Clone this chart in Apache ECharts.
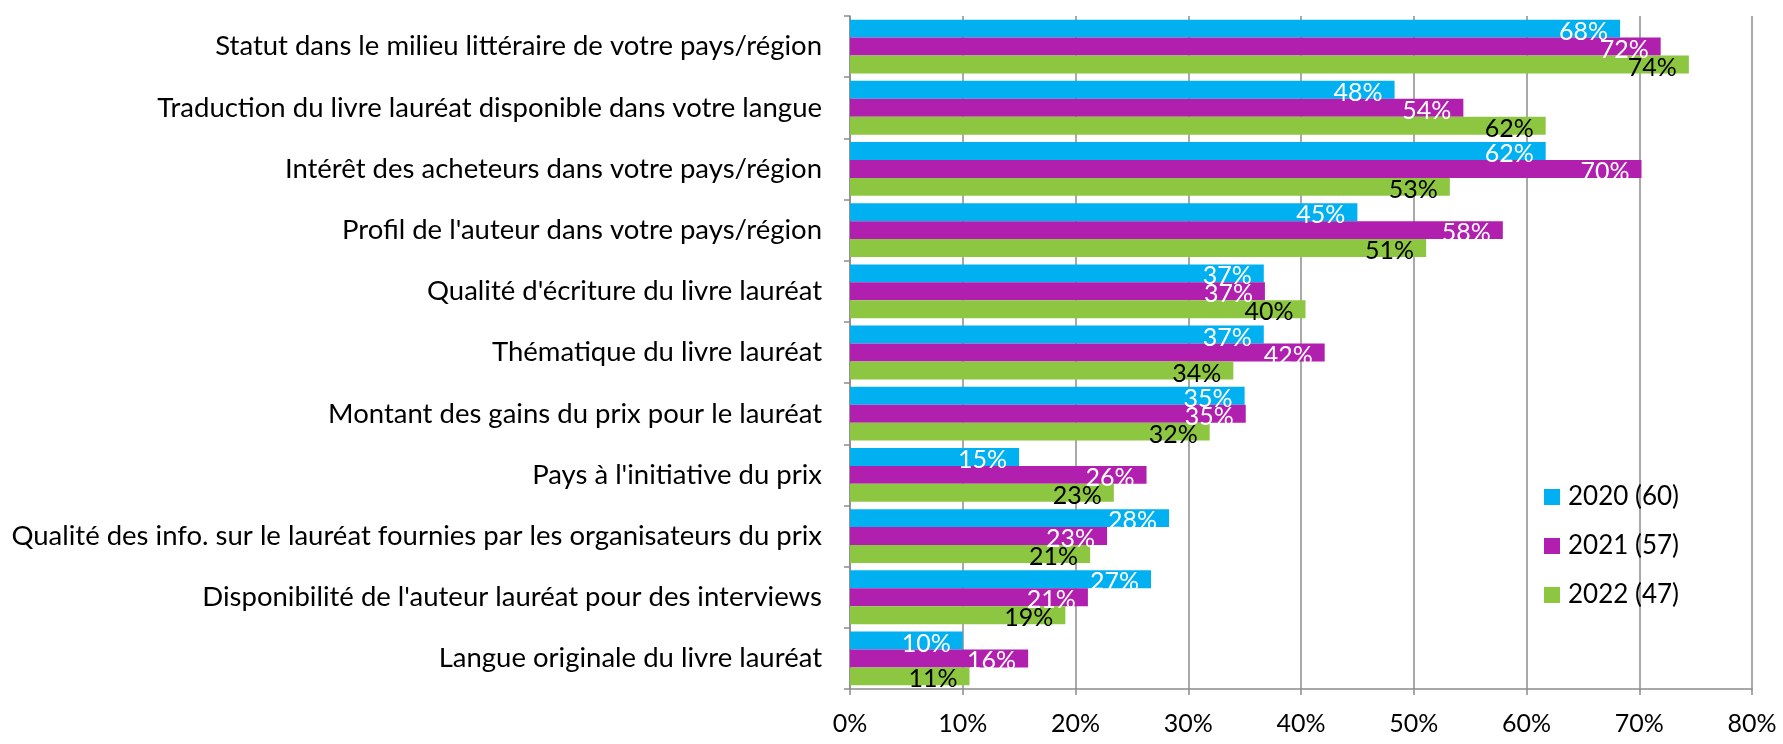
<!DOCTYPE html>
<html>
<head>
<meta charset="utf-8">
<script src="https://cdn.jsdelivr.net/npm/echarts@6/dist/echarts.min.js"></script>
<style>
html,body{margin:0;padding:0;background:#fff;}
#chart{width:1783px;height:744px;}
</style>
</head>
<body>
<div id="chart"></div>
<script>
const categories = [
  "Statut dans le milieu littéraire de votre pays/région",
  "Traduction du livre lauréat disponible dans votre langue",
  "Intérêt des acheteurs dans votre pays/région",
  "Profil de l'auteur dans votre pays/région",
  "Qualité d'écriture du livre lauréat",
  "Thématique du livre lauréat",
  "Montant des gains du prix pour le lauréat",
  "Pays à l'initiative du prix",
  "Qualité des info. sur le lauréat fournies par les organisateurs du prix",
  "Disponibilité de l'auteur lauréat pour des interviews",
  "Langue originale du livre lauréat"
];
const seriesNames = ["2020 (60)", "2021 (57)", "2022 (47)"];
const values2020 = [68.3, 48.3, 61.7, 45.0, 36.7, 36.7, 35.0, 15.0, 28.3, 26.7, 10.0];
const values2021 = [71.9, 54.4, 70.2, 57.9, 36.8, 42.1, 35.1, 26.3, 22.8, 21.1, 15.8];
const values2022 = [74.4, 61.7, 53.2, 51.1, 40.4, 34.0, 31.9, 23.4, 21.3, 19.1, 10.6];
const xTicks = [0, 10, 20, 30, 40, 50, 60, 70, 80];

const colors = ["#00B0F0", "#B01FAD", "#8DC640"];
const labelColors = ["#ffffff", "#ffffff", "#000000"];
const FONT = "Lato";

const chart = echarts.init(document.getElementById('chart'), null, {renderer: 'canvas'});
const allValues = [values2020, values2021, values2022];

chart.setOption({
  animation: false,
  backgroundColor: '#ffffff',
  textStyle: {fontFamily: FONT},
  grid: {left: 850, right: 31, top: 16, bottom: 55, containLabel: false},
  legend: {
    orient: 'vertical',
    left: 1544,
    top: 484,
    padding: 0,
    itemWidth: 16,
    itemHeight: 16,
    itemGap: 23,
    icon: 'rect',
    data: seriesNames,
    textStyle: {fontFamily: FONT, fontSize: 26, color: '#000', padding: [0, 0, 0, 3]}
  },
  xAxis: {
    type: 'value',
    min: xTicks[0],
    max: xTicks[xTicks.length - 1],
    interval: 10,
    axisLine: {show: true, lineStyle: {color: '#8c8c8c', width: 1.5}},
    axisTick: {show: true, length: 6, lineStyle: {color: '#8c8c8c', width: 1.5}},
    splitLine: {show: true, lineStyle: {color: '#8c8c8c', width: 1.5}},
    axisLabel: {
      fontFamily: FONT, fontSize: 25, color: '#000', margin: 22,
      formatter: v => xTicks.includes(v) ? v + '%' : ''
    }
  },
  yAxis: {
    type: 'category',
    inverse: true,
    data: categories,
    axisLine: {show: true, lineStyle: {color: '#8c8c8c', width: 1.5}},
    axisTick: {show: true, length: 6, lineStyle: {color: '#8c8c8c', width: 1.5}},
    axisLabel: {fontFamily: FONT, fontSize: 27.5, color: '#000', margin: 28}
  },
  series: allValues.map((vals, i) => ({
    name: seriesNames[i],
    type: 'bar',
    data: vals,
    barGap: '0%',
    barCategoryGap: '12%',
    itemStyle: {color: colors[i]},
    label: {
      show: true,
      position: 'insideRight',
      distance: 12,
      offset: [0, 3],
      color: labelColors[i],
      fontFamily: FONT,
      fontSize: 25,
      formatter: p => Math.round(p.value) + '%'
    }
  }))
});
</script>
</body>
</html>
